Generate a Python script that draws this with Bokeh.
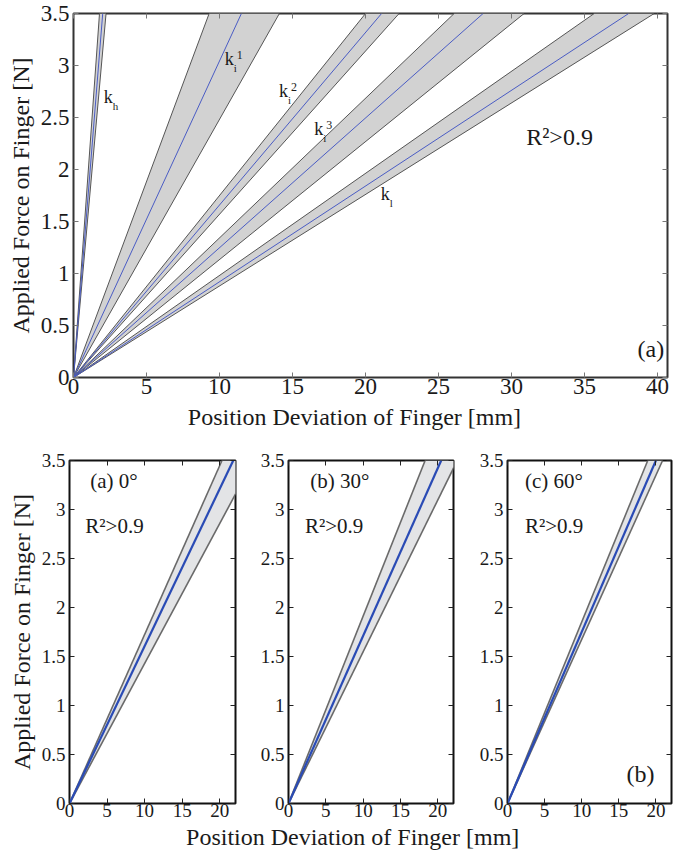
from bokeh.plotting import figure
from bokeh.models import Range1d, LinearAxis, FixedTicker, CustomJSTickFormatter
from bokeh.layouts import column, row
from bokeh.embed import file_html
from bokeh.resources import INLINE
from bokeh.core.properties import value
import numpy as np

FONT = "Liberation Serif"
F_MAX = 3.5  # applied force [N] at which band widths were read

# ---------------- (a) stiffness bands ----------------
band_labels = ["h", "i", "i", "i", "l"]          # subscripts of k
band_sup = ["", "1", "2", "3", ""]                # superscripts of k
# deviation [mm] at F_MAX : stiff edge, fitted line, soft edge
band_dev_stiff = [1.78, 9.29, 20.0, 26.07, 35.66]
band_dev_fit = [2.00, 11.5, 21.1, 28.05, 38.02]
band_dev_soft = [2.23, 14.1, 22.3, 30.86, 39.77]

# ---------------- (b) orientation bands ----------------
angle_labels = ["(a) 0°", "(b) 30°", "(c) 60°"]
ang_dev_stiff = [20.3, 18.3, 18.9]
ang_dev_fit = [21.8, 20.45, 20.0]
ang_dev_soft = [24.5, 22.6, 20.9]

top_xticks = [0, 5, 10, 15, 20, 25, 30, 35, 40]
bot_xticks = [0, 5, 10, 15, 20]
yticks = [0, 0.5, 1, 1.5, 2, 2.5, 3, 3.5]
ytick_labels = ["0", "0.5", "1", "1.5", "2", "2.5", "3", "3.5"]

XLABEL = "Position Deviation of Finger [mm]"
YLABEL = "Applied Force on Finger [N]"


def blank_axis(ticks, color, width):
    ax = LinearAxis(ticker=FixedTicker(ticks=ticks),
                    formatter=CustomJSTickFormatter(code="return ''"),
                    major_tick_in=5, major_tick_out=0,
                    minor_tick_line_color=None, axis_line_color=None,
                    major_tick_line_color=color, major_tick_line_width=width,
                    major_label_text_font_size="0px", major_label_standoff=0)
    return ax


def style(p, xticks, tick_px, tick_color, tick_w, xstand, ylabel=None):
    p.grid.visible = False
    p.xaxis.ticker = FixedTicker(ticks=xticks)
    p.yaxis.ticker = FixedTicker(ticks=yticks)
    p.xaxis.major_label_overrides = {t: str(t) for t in xticks}
    p.yaxis.major_label_overrides = {t: s for t, s in zip(yticks, ytick_labels)}
    for ax in (p.xaxis[0], p.yaxis[0]):
        ax.major_tick_in = 5
        ax.major_tick_out = 0
        ax.minor_tick_line_color = None
        ax.axis_line_color = None
        ax.major_tick_line_color = tick_color
        ax.major_tick_line_width = tick_w
        ax.major_label_text_font = FONT
        ax.major_label_text_font_size = tick_px
        ax.major_label_text_color = "#1a1a1a"
        ax.axis_label_text_font = FONT
        ax.axis_label_text_font_size = "24px"
        ax.axis_label_text_font_style = "normal"
        ax.axis_label_text_color = "#1a1a1a"
        ax.axis_label_standoff = 0
    p.xaxis.major_label_standoff = xstand
    p.yaxis.major_label_standoff = 4
    p.yaxis.axis_label_standoff = 4
    if ylabel:
        p.yaxis.axis_label = ylabel
    p.add_layout(blank_axis(xticks, tick_color, tick_w), "above")
    p.add_layout(blank_axis(yticks, tick_color, tick_w), "right")


def wedges(dev_stiff, dev_fit, dev_soft):
    ds, df, dso = map(np.asarray, (dev_stiff, dev_fit, dev_soft))
    xs_fill = [[0.0, a, b] for a, b in zip(ds, dso)]
    ys_fill = [[0.0, F_MAX, F_MAX] for _ in ds]
    xs_edge = [[0.0, a] for a in np.concatenate([ds, dso])]
    ys_edge = [[0.0, F_MAX] for _ in xs_edge]
    xs_fit = [[0.0, a] for a in df]
    ys_fit = [[0.0, F_MAX] for _ in df]
    return xs_fill, ys_fill, xs_edge, ys_edge, xs_fit, ys_fit


def txt(p, x, y, text, size, align="left", dx=0, dy=0):
    # dy compensates the renderer's downward baseline shift (~0.37 em)
    p.text(x=x, y=y, text=text, text_font=value(FONT), text_font_size=f"{size}px",
           x_offset=dx, y_offset=dy - round(0.37 * size),
           text_baseline="alphabetic", text_align=align, text_color="#1a1a1a")


def title_strip(height, xfrac, yfrac):
    # frame spans x = 73 .. 667 of the page
    s = figure(width=673, height=height, x_range=Range1d(0, 1), y_range=Range1d(0, 1),
               output_backend="svg", toolbar_location=None, x_axis_type=None, y_axis_type=None,
               min_border_left=73, min_border_right=6, min_border_top=0,
               min_border_bottom=0, outline_line_color=None,
               background_fill_color="white", border_fill_color="white")
    s.title.visible = False
    s.grid.visible = False
    txt(s, [xfrac], [yfrac], [XLABEL], 24, align="center")
    return s


# ================= top chart =================
top = figure(width=673, height=404, x_range=Range1d(0, 40.68), y_range=Range1d(0, 3.5),
             output_backend="svg", toolbar_location=None,
             min_border_left=73, min_border_right=6, min_border_top=13, min_border_bottom=27,
             background_fill_color="white", border_fill_color="white")
top.outline_line_color = "#333333"
top.outline_line_width = 2
style(top, top_xticks, "23px", "#777777", 1, 1, YLABEL)

xf, yf, xe, ye, xc, yc = wedges(band_dev_stiff, band_dev_fit, band_dev_soft)
top.patches(xf, yf, fill_color="#d2d2d2", line_color=None)
top.multi_line(xe, ye, line_color="#555555", line_width=1)
top.multi_line(xc, yc, line_color="#4a5cc4", line_width=1)

k_x = [2.08, 10.36, 14.08, 16.48, 21.05]
k_y = [2.63, 3.00, 2.69, 2.32, 1.70]
txt(top, k_x, k_y, ["k"] * len(k_x), 18)
txt(top, k_x, k_y, band_labels, 11, dx=9, dy=6)
sup_idx = [i for i, s in enumerate(band_sup) if s]
txt(top, [k_x[i] for i in sup_idx], [k_y[i] for i in sup_idx], [band_sup[i] for i in sup_idx],
    12, dx=12, dy=-7)
txt(top, [31.0], [2.23], ["R²>0.9"], 24)
txt(top, [40.45], [0.19], ["(a)"], 24, align="right")

top_strip = title_strip(28, 0.473, 0.232)

# ================= bottom panels =================
widths = [253, 219, 201]
left_b = [69, 35, 35]
right_b = [18, 19, 2]
title_x = [2.76, 2.9, 2.35]
r2_x = [2.1, 2.2, 2.35]
panels = []
xf, yf, xe, ye, xc, yc = wedges(ang_dev_stiff, ang_dev_fit, ang_dev_soft)
for i in range(3):
    f = figure(width=widths[i], height=392, x_range=Range1d(0, 22.1), y_range=Range1d(0, 3.5),
               output_backend="svg", toolbar_location=None,
               min_border_left=left_b[i], min_border_right=right_b[i],
               min_border_top=28, min_border_bottom=21,
               background_fill_color="white", border_fill_color="white")
    f.outline_line_color = "#111111"
    f.outline_line_width = 2
    style(f, bot_xticks, "19px", "#222222", 1, 0, YLABEL if i == 0 else None)
    f.patch(xf[i], yf[i], fill_color="#e3e4e6", line_color=None)
    f.multi_line([xe[i], xe[i + 3]], [ye[i], ye[i + 3]], line_color="#6a6a6a", line_width=1.6)
    f.line(xc[i], yc[i], line_color="#2a4bb5", line_width=2.2)
    txt(f, [title_x[i]], [3.21], [angle_labels[i]], 21)
    txt(f, [r2_x[i]], [2.75], ["R²>0.9"], 21)
    panels.append(f)

txt(panels[2], [19.8], [0.21], ["(b)"], 24, align="right")

bottom_strip = title_strip(30, 0.470, 0.283)

layout = column(top, top_strip, row(*panels), bottom_strip)
open("out.html", "w").write(file_html(layout, INLINE))
